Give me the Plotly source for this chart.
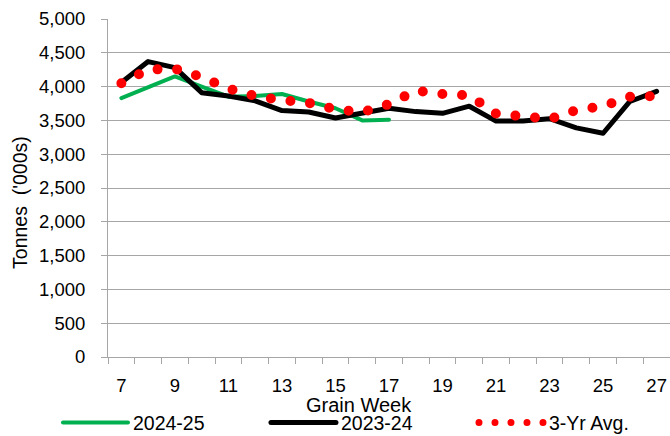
import plotly.graph_objects as go

weeks = list(range(7, 28))
weeks_2425 = list(range(7, 18))
tonnes_2425 = [3830, 3990, 4150, 4000, 3850, 3860, 3890, 3780, 3680, 3500, 3510]
tonnes_2324 = [4060, 4370, 4280, 3910, 3860, 3790, 3645, 3625, 3535, 3600, 3680,
               3630, 3605, 3710, 3490, 3490, 3525, 3390, 3310, 3780, 3930]
tonnes_3yr = [4050, 4250, 4265, 4140, 3970, 3860, 3800, 3760, 3665, 3620, 3740,
              3940, 3890, 3870, 3600, 3560, 3520, 3650, 3710, 3850, 3860]
x_ticks = [7, 9, 11, 13, 15, 17, 19, 21, 23, 25, 27]
y_ticks = [0, 500, 1000, 1500, 2000, 2500, 3000, 3500, 4000, 4500, 5000]

FONT = "Liberation Sans, Arial, sans-serif"
GRID = "#a6a6a6"

fig = go.Figure()
fig.add_trace(go.Scatter(x=weeks_2425, y=tonnes_2425, mode="lines", name="2024-25",
                         line=dict(color="#00b050", width=4)))
fig.add_trace(go.Scatter(x=weeks, y=tonnes_2324, mode="lines", name="2023-24",
                         line=dict(color="#000000", width=5)))
fig.add_trace(go.Scatter(x=weeks, y=tonnes_3yr, mode="lines", name="3-Yr Avg.",
                         line=dict(color="#ff0000", width=10, dash="0px,19.7px")))

fig.update_layout(
    width=670, height=436,
    margin=dict(l=108, r=0, t=19, b=79, autoexpand=False),
    paper_bgcolor="white", plot_bgcolor="white",
    font=dict(family=FONT, size=18, color="#000000"),
    showlegend=True,
    legend=dict(orientation="h", x=-0.089, xanchor="left", y=-0.195, yanchor="middle",
                itemwidth=65, entrywidth=128, font=dict(size=19.5),
                bgcolor="rgba(0,0,0,0)", tracegroupgap=0),
    xaxis=dict(range=[6.5, 27.5], tickmode="array", tickvals=x_ticks,
               ticktext=[str(v) for v in x_ticks], ticks="", showgrid=False,
               showline=True, linecolor=GRID, linewidth=1, zeroline=False,
               ticklabelstandoff=12, tickfont=dict(size=18.5),
               minor=dict(tick0=6.5, dtick=1, ticks="outside", ticklen=6,
                          tickcolor=GRID, showgrid=False)),
    yaxis=dict(range=[0, 5000], tickmode="array", tickvals=y_ticks,
               ticktext=[f"{v:,}" for v in y_ticks], ticks="outside", ticklen=6,
               tickcolor=GRID, showgrid=True, gridcolor=GRID, gridwidth=1,
               showline=True, linecolor=GRID, linewidth=1, zeroline=False,
               ticklabelstandoff=12, tickfont=dict(size=18.5)),
    annotations=[
        dict(text="Grain Week", xref="paper", yref="paper", x=0.4466, y=-0.143,
             xanchor="center", yanchor="middle", showarrow=False,
             font=dict(size=20)),
        dict(text="Tonnes\u00a0 ('000s)", xref="paper", yref="paper", x=-0.157, y=0.458,
             xanchor="center", yanchor="middle", showarrow=False, textangle=-90,
             font=dict(size=19.5)),
    ],
)

post = """
document.body.style.margin = '0';
document.body.style.padding = '0';
var gd = document.getElementById('{plot_id}');
function fixCaps(){
  gd.querySelectorAll('.scatterlayer path.js-line, .legend path.js-line').forEach(function(p){
    p.style.strokeLinecap = 'round';
    p.style.strokeLinejoin = 'round';
  });
  gd.querySelectorAll('.legend path.js-line').forEach(function(p){
    var d = p.style.strokeDasharray || '';
    if (d.indexOf('0px') === 0) { p.style.strokeWidth = '7px'; p.style.strokeDasharray = '0px,16px'; }
  });
}
fixCaps();
gd.on('plotly_afterplot', fixCaps);
"""

fig.write_html("out.html", post_script=post, config={"displayModeBar": False})
